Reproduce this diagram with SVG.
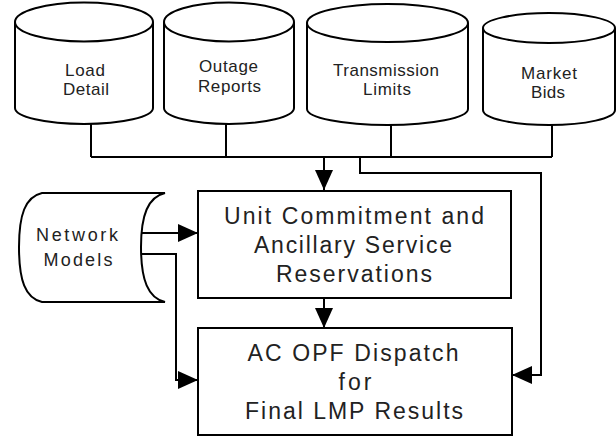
<svg xmlns="http://www.w3.org/2000/svg" width="616" height="437" viewBox="0 0 616 437">
<defs>
<style>
.shape{fill:#fff;stroke:#000;stroke-width:2}
.line{fill:none;stroke:#000;stroke-width:2}
.lbl{font-family:"Liberation Sans",Arial,sans-serif;fill:#222;text-anchor:middle}
.cyl{font-size:17px}
.box{font-size:23px}
.net{font-size:18px}
</style>
<marker id="ah" markerUnits="userSpaceOnUse" markerWidth="20" markerHeight="20" viewBox="0 0 20 18" refX="20" refY="9" orient="auto">
<path d="M0,0 L20,9 L0,18 Z" fill="#000"/>
</marker>
</defs>
<rect width="616" height="437" fill="#fff"/>

<g id="connectors">
<path class="line" d="M91,124 V157 M226,124 V157 M391,125 V157 M552,125 V157 M91,157 H552"/>
<path class="line" d="M324,157 V190" marker-end="url(#ah)"/>
<path class="line" d="M360,157 V173 H541 V375 H512" marker-end="url(#ah)"/>
<path class="line" d="M324,298 V328" marker-end="url(#ah)"/>
<path class="line" d="M142,233 H198" marker-end="url(#ah)"/>
<path class="line" d="M142,254 H176 V380 H198" marker-end="url(#ah)"/>
</g>

<g id="load-detail">
<path class="shape" d="M15,22 V108 A69,16 0 0 0 153,108 V22"/>
<ellipse class="shape" cx="84" cy="22" rx="69" ry="19.5"/>
<text class="lbl cyl" x="85" y="76" textLength="40" lengthAdjust="spacing">Load</text>
<text class="lbl cyl" x="86" y="95" textLength="46" lengthAdjust="spacing">Detail</text>
</g>

<g id="outage-reports">
<path class="shape" d="M164,22 V108 A65,16 0 0 0 294,108 V22"/>
<ellipse class="shape" cx="229" cy="22" rx="65" ry="19.5"/>
<text class="lbl cyl" x="228.5" y="72" textLength="59" lengthAdjust="spacing">Outage</text>
<text class="lbl cyl" x="229.5" y="92" textLength="63" lengthAdjust="spacing">Reports</text>
</g>

<g id="transmission-limits">
<path class="shape" d="M307,23 V109 A80.5,16 0 0 0 468,109 V23"/>
<ellipse class="shape" cx="387.5" cy="23" rx="80.5" ry="19"/>
<text class="lbl cyl" x="386" y="76" textLength="106" lengthAdjust="spacing">Transmission</text>
<text class="lbl cyl" x="387" y="95" textLength="48" lengthAdjust="spacing">Limits</text>
</g>

<g id="market-bids">
<path class="shape" d="M483,28 V110 A66,15 0 0 0 615,110 V28"/>
<ellipse class="shape" cx="549" cy="28" rx="66" ry="15"/>
<text class="lbl cyl" x="549" y="79" textLength="56" lengthAdjust="spacing">Market</text>
<text class="lbl cyl" x="548" y="98" textLength="34" lengthAdjust="spacing">Bids</text>
</g>

<g id="network-models">
<path class="shape" d="M42,193 H165 C148,197 141,215 141,247 C141,280 148,298 165,302 H42 C25,298 19,280 19,247 C19,215 25,197 42,193 Z"/>
<text class="lbl net" x="77" y="241" textLength="82" lengthAdjust="spacing">Network</text>
<text class="lbl net" x="78" y="266" textLength="69" lengthAdjust="spacing">Models</text>
</g>

<g id="unit-commitment">
<rect class="shape" x="198" y="191" width="313" height="107"/>
<text class="lbl box" x="354" y="224" textLength="260" lengthAdjust="spacing">Unit Commitment and</text>
<text class="lbl box" x="353" y="253" textLength="198" lengthAdjust="spacing">Ancillary Service</text>
<text class="lbl box" x="354" y="282" textLength="156" lengthAdjust="spacing">Reservations</text>
</g>

<g id="ac-opf-dispatch">
<rect class="shape" x="198" y="328" width="314" height="107"/>
<text class="lbl box" x="353" y="361" textLength="211" lengthAdjust="spacing">AC OPF Dispatch</text>
<text class="lbl box" x="355" y="390" textLength="33" lengthAdjust="spacing">for</text>
<text class="lbl box" x="354" y="419" textLength="218" lengthAdjust="spacing">Final LMP Results</text>
</g>
</svg>
